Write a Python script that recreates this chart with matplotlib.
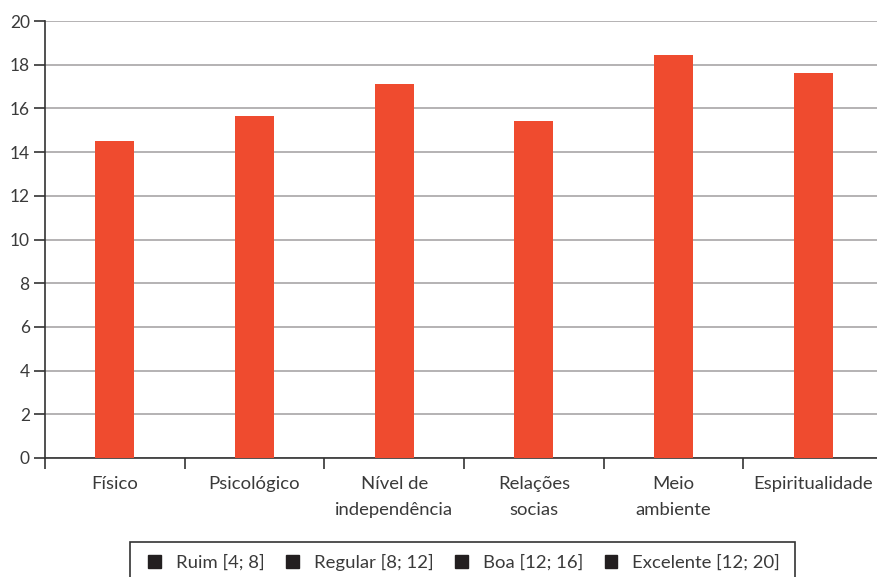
import matplotlib.pyplot as plt
from matplotlib.patches import Patch, Rectangle

categorias = ["Físico", "Psicológico", "Nível de\nindependência",
              "Relações\nsocias", "Meio\nambiente", "Espiritualidade"]
escores = [14.5, 15.65, 17.1, 15.42, 18.44, 17.62]
legenda = ["Ruim [4; 8]", "Regular [8; 12]", "Boa [12; 16]", "Excelente [12; 20]"]

plt.rcParams["font.family"] = ["Lato", "DejaVu Sans"]
texto = "#3a3a3a"

fig = plt.figure(figsize=(8.78, 5.77), dpi=100)
ax = fig.add_axes([45 / 878, 119 / 577, 838 / 878, 437 / 577])

x = list(range(len(categorias)))
ax.bar(x, escores, width=0.28, color="#ef4b2f", zorder=3)

ax.set_xlim(-0.5, len(categorias) - 0.5)
ax.set_ylim(0, 20)
ax.set_yticks(range(0, 21, 2))
ax.yaxis.grid(True, color="#a8a6a7", linewidth=1.2, zorder=0)

# rótulos no centro, marcas nas divisas entre categorias
ax.set_xticks(x)
ax.set_xticklabels(categorias, fontsize=13.3, color=texto, linespacing=1.75)
ax.tick_params(axis="x", which="major", length=0, pad=13)
ax.set_xticks([i - 0.5 for i in range(len(categorias) + 1)], minor=True)
ax.tick_params(axis="x", which="minor", length=8, width=1.2, color="#333333")
ax.tick_params(axis="y", length=8, width=1.2, color="#333333",
               labelsize=12.5, labelcolor=texto, pad=3)

for lado in ["top", "right"]:
    ax.spines[lado].set_visible(False)
for lado in ["left", "bottom"]:
    ax.spines[lado].set_color("#333333")
    ax.spines[lado].set_linewidth(1.2)

# caixa da legenda, aberta na borda inferior
fig.add_artist(Rectangle((130 / 878, -0.05), 665 / 878, 35 / 577 + 0.05,
                         transform=fig.transFigure, facecolor="white",
                         edgecolor="#333333", linewidth=1.2))

handles = [Patch(facecolor="#231f20", edgecolor="#231f20") for _ in legenda]
leg = fig.legend(handles, legenda, loc="center left", ncol=4, mode="expand",
                 bbox_to_anchor=(148 / 878, 15 / 577, 632 / 878, 0),
                 fontsize=13.3, handlelength=0.7, handleheight=0.7,
                 handletextpad=0.8, borderaxespad=0, borderpad=0,
                 frameon=False)
for t in leg.get_texts():
    t.set_color(texto)

fig.savefig("out.png", dpi=100)
